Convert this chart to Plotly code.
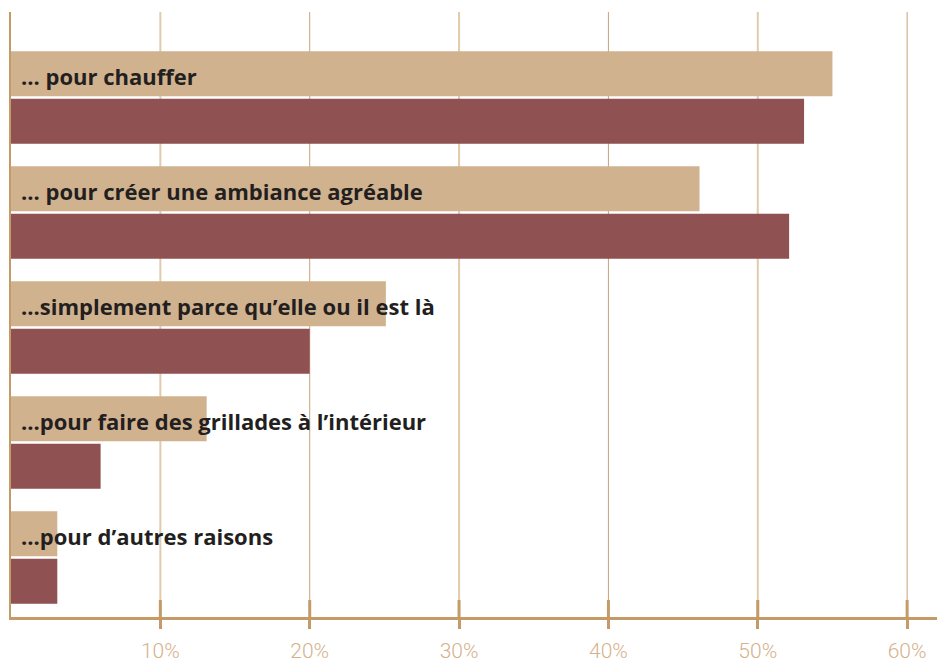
import plotly.graph_objects as go

categories = ["... pour chauffer", "... pour créer une ambiance agréable",
              "...simplement parce qu\u2019elle ou il est là",
              "...pour faire des grillades à l\u2019intérieur", "...pour d\u2019autres raisons"]
series_a = [55.0, 46.1, 25.1, 13.1, 3.1]   # tan
series_b = [53.1, 52.1, 20.0, 6.0, 3.1]    # red
tick_vals = [10, 20, 30, 40, 50, 60]
tick_text = ["10%", "20%", "30%", "40%", "50%", "60%"]

TAN = "#d1b28f"
RED = "#8f5151"
AXIS = "#c49a66"
LABEL = "#d4b28c"

ypos = list(range(len(categories)))

fig = go.Figure()
fig.add_trace(go.Bar(y=ypos, x=series_a, orientation="h", marker=dict(color=TAN, line=dict(width=0)), name="A"))
fig.add_trace(go.Bar(y=ypos, x=series_b, orientation="h", marker=dict(color=RED, line=dict(width=0)), name="B"))

shapes = []
for i, v in enumerate(tick_vals):
    light = (i % 2 == 0)
    shapes.append(dict(type="line", xref="x", yref="paper", x0=v, x1=v, y0=0, y1=1,
                       line=dict(color="#e2cbac" if light else "#c9a27a", width=2 if light else 1), layer="below"))
    shapes.append(dict(type="line", xref="x", yref="paper", x0=v, x1=v, y0=0, y1=0.028,
                       line=dict(color=AXIS, width=3), layer="above"))

annotations = []
for i, c in enumerate(categories):
    annotations.append(dict(x=0, y=i - 25/115, xref="x", yref="y", text=c, showarrow=False,
                            xanchor="left", yanchor="middle", xshift=8, yshift=-3,
                            font=dict(family="Open Sans", size=22, color="#231f20", weight=700)))

fig.update_layout(
    width=937, height=666,
    margin=dict(l=11, r=0, t=12, b=49),
    paper_bgcolor="white", plot_bgcolor="white",
    barmode="group", bargap=0.174, bargroupgap=0.053,
    showlegend=False,
    shapes=shapes, annotations=annotations,
    xaxis=dict(range=[0, 62], tickvals=tick_vals, ticktext=tick_text, showgrid=False, zeroline=False,
               showline=True, linecolor=AXIS, linewidth=3, automargin=False,
               ticks="outside", ticklen=9, tickwidth=3, tickcolor=AXIS,
               tickfont=dict(family="Roboto", size=21, color=LABEL, weight=300),
               ticklabelstandoff=4),
    yaxis=dict(range=[4 + 59.5/115, -85.5/115], showticklabels=False, showgrid=False, zeroline=False,
               showline=True, linecolor=AXIS, linewidth=2, ticks="", automargin=False),
)

fig.write_html("out.html", config={"displayModeBar": False},
               post_script="document.body.style.margin='0';document.body.style.overflow='hidden';")
